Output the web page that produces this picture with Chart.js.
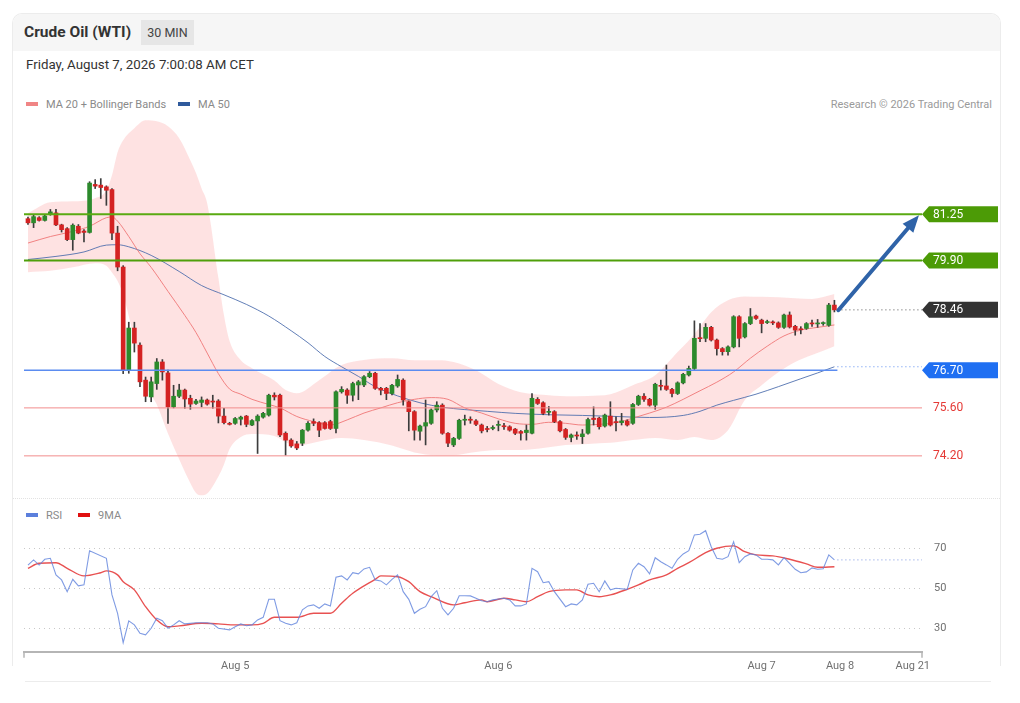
<!DOCTYPE html>
<html>
<head>
<meta charset="utf-8">
<script src="https://cdn.jsdelivr.net/npm/chart.js@4.4.1/dist/chart.umd.min.js"></script>
<style>
  body { margin: 0; width: 1020px; height: 703px; position: relative; overflow: hidden; background: #fff;
         font-family: Roboto, "Liberation Sans", Arial, sans-serif; }
  .card { position: absolute; left: 12px; top: 13px; width: 989px; height: 653px; box-sizing: border-box;
          border: 1px solid #ececec; border-bottom: none; border-radius: 10px 10px 0 0; }
  .head { position: absolute; left: 13px; top: 14px; width: 987px; height: 37px; background: #f6f6f6;
          border-radius: 9px 9px 0 0; }
  .title { position: absolute; left: 24px; top: 23px; font-size: 15.5px; font-weight: bold; color: #333; }
  .tf { position: absolute; left: 141px; top: 20px; width: 53px; height: 25px; line-height: 25px; text-align: center;
        background: #e6e6e6; color: #444; font-size: 12.5px; }
  .date { position: absolute; left: 26px; top: 57px; font-size: 13.3px; color: #333; }
  .leg { position: absolute; font-size: 11px; color: #8a8a8a; white-space: nowrap; }
  .sw { display: inline-block; width: 12px; height: 4px; vertical-align: middle; margin-right: 8px; position: relative; top: -1px; }
  .copy { position: absolute; right: 28px; top: 98px; font-size: 11px; color: #9a9a9a; }
  .sep { position: absolute; left: 13px; top: 498px; width: 987px; border-top: 1px dotted #e2e2e2; }
  .foot { position: absolute; left: 25px; top: 681px; width: 966px; border-top: 1px solid #ececec; }
  canvas { position: absolute; }
</style>
</head>
<body>
<div class="card"></div>
<div class="head"></div>
<div class="title">Crude Oil (WTI)</div>
<div class="tf">30 MIN</div>
<div class="date">Friday, August 7, 2026 7:00:08 AM CET</div>
<div class="leg" style="left:26px;top:98px"><span class="sw" style="background:#f08585"></span>MA 20 + Bollinger Bands</div>
<div class="leg" style="left:178px;top:98px"><span class="sw" style="background:#2f5a9c"></span>MA 50</div>
<div class="copy">Research © 2026 Trading Central</div>
<div class="sep"></div>
<div class="leg" style="left:26px;top:509px"><span class="sw" style="background:#5b7fdc"></span>RSI</div>
<div class="leg" style="left:78px;top:509px"><span class="sw" style="background:#e01010"></span>9MA</div>
<div class="foot"></div>

<canvas id="priceChart" width="988" height="392" style="left:12px;top:110px"></canvas>
<canvas id="rsiChart" width="988" height="180" style="left:12px;top:500px"></canvas>

<script>
// 30 min candles, index 0 = first bar on the left
var candleOpen = [
  81.12, 81.00, 81.15, 81.07, 81.24, 81.29, 80.94, 80.83, 80.51, 80.90,
  80.76, 80.72, 82.12, 82.10, 82.05, 81.97, 80.70, 79.71, 76.70, 77.93,
  77.43, 76.41, 75.92, 76.31, 76.94, 76.62, 75.63, 75.94, 76.12, 75.88,
  75.73, 75.76, 75.83, 75.78, 75.80, 75.36, 75.15, 75.15, 75.27, 75.36,
  75.10, 75.22, 75.33, 75.39, 75.97, 75.97, 74.86, 74.66, 74.55, 74.57,
  74.95, 75.20, 75.17, 75.17, 75.20, 75.00, 76.07, 76.12, 75.97, 76.27,
  76.27, 76.51, 76.61, 76.17, 76.17, 76.02, 76.24, 76.41, 75.78, 75.49,
  74.92, 75.07, 75.15, 75.54, 75.68, 74.86, 74.52, 74.71, 75.24, 75.25,
  75.22, 75.10, 74.99, 75.00, 75.09, 75.07, 75.05, 74.98, 74.91, 74.88,
  74.86, 75.85, 75.75, 75.47, 75.49, 75.20, 74.97, 74.74, 74.79, 74.76,
  74.86, 75.30, 75.30, 75.07, 75.36, 75.18, 75.17, 75.22, 75.15, 75.70,
  75.94, 75.85, 75.68, 76.24, 76.24, 76.14, 76.02, 76.33, 76.56, 76.75,
  77.63, 77.63, 77.95, 77.58, 77.33, 77.24, 77.38, 78.26, 77.67, 78.06,
  78.28, 78.16, 78.09, 78.09, 78.08, 77.95, 78.31, 77.98, 77.89, 77.92,
  78.06, 78.05, 78.06, 78.01, 78.60
];
var candleHigh = [
  81.17, 81.22, 81.18, 81.23, 81.39, 81.39, 80.96, 80.86, 80.97, 80.95,
  80.80, 82.20, 82.26, 82.29, 82.08, 82.00, 80.90, 79.75, 78.10, 78.10,
  77.50, 76.50, 76.50, 77.04, 77.01, 76.70, 76.26, 76.29, 76.15, 75.97,
  75.85, 75.92, 75.86, 75.97, 75.84, 75.59, 75.18, 75.32, 75.36, 75.38,
  75.26, 75.40, 75.47, 76.00, 76.04, 76.00, 74.90, 74.70, 74.62, 74.97,
  75.20, 75.28, 75.20, 75.20, 75.24, 76.10, 76.22, 76.16, 76.35, 76.40,
  76.54, 76.66, 76.64, 76.20, 76.20, 76.29, 76.56, 76.45, 75.80, 75.52,
  75.10, 75.83, 75.57, 75.78, 75.72, 74.88, 74.74, 75.27, 75.39, 75.34,
  75.26, 75.13, 75.06, 75.08, 75.22, 75.15, 75.08, 75.00, 74.94, 75.10,
  76.02, 75.90, 75.78, 75.64, 75.52, 75.23, 75.00, 74.84, 74.90, 74.97,
  75.30, 75.63, 75.33, 75.42, 75.78, 75.34, 75.44, 75.25, 75.73, 75.97,
  76.02, 75.88, 76.32, 76.41, 76.85, 76.17, 76.36, 76.61, 76.82, 78.14,
  78.06, 78.06, 77.98, 77.61, 77.36, 77.41, 78.29, 78.29, 78.09, 78.50,
  78.31, 78.19, 78.16, 78.14, 78.11, 78.34, 78.40, 78.01, 77.97, 78.09,
  78.16, 78.18, 78.11, 78.65, 78.74
];
var candleLow = [
  80.95, 80.86, 81.05, 81.05, 81.22, 80.92, 80.73, 80.48, 80.20, 80.68,
  80.44, 80.70, 82.00, 81.71, 81.51, 80.51, 79.60, 76.60, 76.61, 77.23,
  76.22, 75.78, 75.78, 76.14, 76.41, 75.15, 75.60, 75.90, 75.59, 75.56,
  75.70, 75.63, 75.68, 75.59, 75.16, 75.13, 75.10, 75.12, 75.10, 75.05,
  75.08, 74.27, 75.30, 75.36, 75.83, 74.76, 74.22, 74.45, 74.38, 74.50,
  74.92, 75.08, 74.76, 74.98, 74.97, 74.87, 76.03, 75.73, 75.80, 75.84,
  76.22, 76.48, 76.14, 75.98, 75.84, 75.98, 76.20, 75.68, 74.93, 74.66,
  74.66, 74.52, 75.12, 75.48, 74.83, 74.47, 74.47, 74.68, 75.10, 75.15,
  75.08, 74.87, 74.90, 74.96, 74.93, 74.97, 74.92, 74.82, 74.66, 74.66,
  74.84, 75.70, 75.40, 75.39, 75.17, 74.90, 74.68, 74.61, 74.68, 74.56,
  74.83, 75.10, 74.98, 75.04, 75.07, 74.93, 75.10, 75.07, 75.12, 75.67,
  75.79, 75.65, 75.56, 76.12, 76.11, 75.92, 75.99, 76.30, 76.53, 76.72,
  77.53, 77.53, 77.55, 77.14, 77.14, 77.14, 77.35, 77.38, 77.64, 78.03,
  78.18, 77.79, 78.06, 78.03, 77.92, 77.92, 77.93, 77.72, 77.76, 77.89,
  77.98, 77.95, 78.01, 77.98, 78.40
];
var candleClose = [
  81.00, 81.18, 81.07, 81.20, 81.32, 80.94, 80.80, 80.51, 80.93, 80.70,
  80.72, 82.16, 82.07, 82.03, 81.95, 80.70, 79.71, 76.70, 77.93, 77.49,
  76.36, 75.94, 76.36, 76.94, 76.65, 75.63, 75.94, 76.12, 75.86, 75.71,
  75.80, 75.83, 75.71, 75.77, 75.36, 75.17, 75.12, 75.29, 75.33, 75.12,
  75.23, 75.36, 75.44, 75.97, 75.92, 74.81, 74.66, 74.49, 74.43, 74.95,
  75.15, 75.15, 74.95, 75.00, 75.00, 76.07, 76.14, 75.97, 76.31, 76.36,
  76.51, 76.61, 76.17, 76.12, 76.02, 76.26, 76.43, 75.83, 75.49, 74.95,
  75.07, 75.17, 75.54, 75.68, 74.86, 74.57, 74.71, 75.24, 75.25, 75.24,
  75.12, 74.93, 74.97, 75.03, 75.10, 75.05, 74.95, 74.86, 74.86, 74.95,
  75.88, 75.73, 75.44, 75.49, 75.20, 74.93, 74.74, 74.81, 74.78, 74.84,
  75.26, 75.26, 75.05, 75.39, 75.10, 75.17, 75.22, 75.10, 75.70, 75.94,
  75.85, 75.68, 76.29, 76.23, 76.14, 76.02, 76.33, 76.58, 76.75, 77.63,
  77.62, 77.95, 77.58, 77.33, 77.24, 77.38, 78.26, 77.63, 78.06, 78.26,
  78.21, 78.06, 78.09, 78.08, 77.95, 78.31, 77.96, 77.87, 77.88, 78.06,
  78.05, 78.06, 78.06, 78.60, 78.46
];

// Bollinger bands (read at these bar indexes)
var bandIdx   = [0, 4, 8, 12, 14, 15, 16, 17, 19, 21, 23, 25, 27, 29, 30, 31, 32, 34, 35, 36, 38, 40, 44, 46, 48,
                 52, 56, 60, 65, 69, 73, 76, 80, 84, 88, 92, 96, 100, 104, 108, 112, 116, 119, 122, 125, 128,
                 131, 134, 137, 140, 144];
var bandUpper = [81.28, 81.60, 81.63, 81.72, 81.95, 82.39, 83.06, 83.41, 83.76, 83.99, 83.96, 83.82, 83.47, 82.82,
                 82.45, 82.00, 81.57, 79.40, 78.30, 77.55, 76.99, 76.76, 76.40, 76.12, 76.03, 76.41, 76.85, 77.00,
                 77.05, 76.99, 76.99, 76.94, 76.70, 76.30, 76.06, 75.98, 75.94, 75.95, 76.00, 76.26, 76.55, 77.23,
                 77.75, 78.39, 78.74, 78.85, 78.84, 78.83, 78.80, 78.78, 78.92];
var bandLower = [79.56, 79.60, 79.70, 79.82, 79.75, 79.55, 79.30, 78.90, 77.60, 76.30, 75.70, 74.85, 74.10, 73.40,
                 73.12, 73.05, 73.10, 73.60, 73.95, 74.40, 74.75, 74.84, 74.78, 74.60, 74.50, 74.62, 74.72, 74.66,
                 74.50, 74.30, 74.22, 74.22, 74.31, 74.37, 74.37, 74.43, 74.52, 74.55, 74.58, 74.66, 74.72, 74.66,
                 74.75, 74.66, 74.95, 75.83, 76.26, 76.64, 76.94, 77.14, 77.40];

var ma20Idx = [0, 4, 8, 11, 14, 15, 16, 18, 20, 22, 25, 28, 30, 32, 34, 36, 38, 40, 43, 45, 48, 51, 54, 57, 60, 63,
               66, 69, 72, 75, 78, 81, 84, 87, 90, 93, 96, 99, 102, 105, 108, 111, 114, 117, 120, 123, 126, 129,
               132, 135, 138, 141, 144];
var ma20Val = [80.41, 80.60, 80.75, 80.90, 81.15, 81.17, 81.05, 80.60, 80.10, 79.70, 79.00, 78.30, 77.80, 77.20,
               76.60, 76.15, 76.00, 75.85, 75.70, 75.60, 75.35, 75.20, 75.10, 75.25, 75.45, 75.60, 75.75, 75.85,
               75.90, 75.85, 75.60, 75.45, 75.28, 75.15, 75.12, 75.18, 75.15, 75.10, 75.12, 75.17, 75.30, 75.45,
               75.62, 75.85, 76.10, 76.35, 76.65, 77.05, 77.40, 77.70, 77.87, 77.95, 78.02];

var ma50Idx = [0, 5, 10, 14, 16, 18, 22, 27, 31, 35, 39, 43, 47, 50, 53, 56, 59, 62, 66, 70, 74, 78, 82, 87, 93,
               99, 105, 111, 117, 120, 123, 126, 130, 134, 138, 141, 144];
var ma50Val = [79.93, 80.02, 80.15, 80.35, 80.36, 80.30, 80.05, 79.58, 79.17, 78.90, 78.62, 78.28, 77.85, 77.50,
               77.10, 76.80, 76.52, 76.22, 75.95, 75.75, 75.62, 75.55, 75.50, 75.44, 75.40, 75.38, 75.35, 75.32,
               75.38, 75.50, 75.68, 75.82, 76.00, 76.22, 76.45, 76.62, 76.80];

var rsiIdx = [0, 1, 2, 3, 4, 5, 6, 7, 8, 9, 10, 11, 14, 15, 16, 17, 18, 19, 20, 21, 22, 23, 24, 25, 26, 27, 28,
              30, 31, 32, 33, 34, 36, 37, 38, 39, 40, 41, 42, 43, 44, 45, 46, 47, 48, 49, 50, 51, 52, 53, 54, 55,
              56, 57, 58, 59, 60, 61, 62, 63, 64, 65, 66, 67, 68, 69, 70, 71, 72, 73, 74, 75, 76, 77, 78, 79, 80,
              81, 82, 83, 85, 86, 87, 88, 89, 90, 91, 92, 93, 94, 96, 97, 98, 99, 100, 101, 102, 103, 104, 105,
              107, 108, 109, 110, 111, 112, 113, 114, 115, 116, 117, 118, 119, 120, 121, 122, 123, 124, 125, 126,
              127, 128, 129, 130, 131, 132, 133, 134, 135, 136, 137, 138, 139, 140, 141, 142, 143, 144];
var rsiVal = [61.6, 64.2, 61.6, 64.5, 65.0, 56.7, 54.2, 48.3, 54.5, 51.2, 51.7, 68.8, 65.0, 46.7, 37.5, 22.8, 33.7,
              31.7, 27.5, 26.7, 30.0, 35.0, 33.8, 30.0, 31.7, 33.8, 32.2, 32.8, 32.8, 32.8, 32.2, 30.0, 29.2, 30.8,
              32.2, 31.3, 31.7, 34.2, 35.5, 44.5, 44.5, 33.8, 32.5, 31.7, 32.8, 39.2, 41.2, 41.7, 40.0, 42.2, 41.2,
              55.5, 56.2, 54.2, 57.8, 57.2, 59.7, 60.5, 54.2, 53.7, 51.7, 54.5, 56.7, 48.3, 44.5, 37.5, 39.5, 40.8,
              45.8, 48.8, 40.0, 36.7, 40.0, 46.3, 46.3, 46.2, 45.0, 43.8, 43.3, 44.2, 45.0, 44.2, 41.2, 41.2, 42.2,
              60.0, 58.3, 52.8, 53.3, 48.3, 40.8, 42.2, 41.7, 44.2, 52.0, 52.5, 48.3, 53.7, 49.2, 50.0, 49.5, 59.2,
              62.5, 60.8, 57.2, 65.3, 63.3, 61.7, 60.0, 64.5, 67.2, 68.8, 76.7, 77.0, 78.8, 70.8, 65.0, 64.5, 65.8,
              73.3, 62.8, 65.8, 67.2, 66.7, 64.5, 64.5, 64.2, 61.7, 65.3, 62.5, 59.5, 57.8, 58.2, 60.2, 59.5, 59.8,
              66.7, 64.2];

var rsiMaIdx = [0, 2, 5, 7, 10, 13, 14, 16, 17, 19, 21, 23, 25, 27, 31, 34, 37, 40, 42, 44, 48, 51, 54, 56, 58,
                62, 63, 66, 68, 70, 72, 76, 78, 81, 82, 85, 87, 89, 91, 93, 96, 98, 100, 102, 104, 107, 109, 111,
                114, 116, 118, 121, 123, 126, 128, 130, 133, 136, 139, 141, 144];
var rsiMaVal = [60.0, 62.5, 62.8, 60.0, 56.2, 57.8, 58.7, 56.7, 53.3, 49.2, 40.8, 34.2, 30.8, 31.2, 32.5, 32.2,
                31.7, 31.7, 32.5, 35.5, 35.5, 37.5, 37.5, 42.5, 47.5, 54.5, 56.2, 55.8, 53.3, 48.3, 45.8, 41.7,
                42.8, 44.2, 43.3, 45.0, 44.2, 43.3, 45.8, 48.3, 49.2, 49.2, 46.7, 45.8, 46.7, 49.5, 51.7, 54.2,
                56.7, 60.0, 62.8, 67.8, 70.0, 71.2, 68.3, 66.7, 66.2, 64.5, 62.2, 60.5, 60.8];

var xTickPos = [37, 84, 131, 145, 158];
var xTickLabels = ['Aug 5', 'Aug 6', 'Aug 7', 'Aug 8', 'Aug 21'];
var rsiTicks = [30, 50, 70];

// price levels shown on the right edge
var levels = [81.25, 79.90, 78.46, 76.70, 75.60, 74.20];
var arrowFrom = [144.7, 78.45];
var arrowTo = [159.1, 81.22];

var X_MIN = -0.71, X_MAX = 159.64;
var FONT = 'Roboto, "Liberation Sans", Arial, sans-serif';

function pts(xs, ys) {
  return xs.map(function (v, k) { return { x: v, y: ys[k] }; });
}

var bodies = candleOpen.map(function (o, i) { return { x: i, y: [o, candleClose[i]] }; });
var wicks = candleLow.map(function (l, i) { return { x: i, y: [l, candleHigh[i]] }; });
function bodyColor(ctx) {
  var i = ctx.dataIndex;
  return candleClose[i] >= candleOpen[i] ? '#2c8a2c' : '#d42222';
}

// look of each level: line colour/width, how far it runs, tag colour
var levelLook = [
  { line: '#5aaa12', w: 2, tag: '#4c9b06' },
  { line: '#4f9f0a', w: 2, tag: '#4c9b06' },
  { dots: '#555', tag: '#333333' },
  { line: '#5b8cf0', w: 1.5, toLast: true, tag: '#1f6ff2' },
  { line: '#f28c8c', w: 1, text: '#e53935' },
  { line: '#f28c8c', w: 1, text: '#e53935' }
];

var priceOverlay = {
  id: 'priceOverlay',
  afterDatasetsDraw: function (chart) {
    var ctx = chart.ctx, a = chart.chartArea, xs = chart.scales.x, ys = chart.scales.y;
    var lastX = xs.getPixelForValue(candleClose.length - 1) + 3;
    ctx.save();
    levelLook.forEach(function (s, k) {
      var py = ys.getPixelForValue(levels[k]);
      if (s.line) {
        ctx.strokeStyle = s.line;
        ctx.lineWidth = s.w;
        ctx.setLineDash([]);
        ctx.beginPath();
        ctx.moveTo(a.left, py);
        ctx.lineTo(s.toLast ? lastX : a.right, py);
        ctx.stroke();
      }
      if (s.dots || s.toLast) {
        var dy = s.toLast ? ys.getPixelForValue(ma50Val[ma50Val.length - 1]) : py;
        ctx.strokeStyle = s.dots || s.line;
        ctx.lineWidth = 1;
        ctx.setLineDash([1, 3]);
        ctx.beginPath();
        ctx.moveTo(lastX, dy);
        ctx.lineTo(a.right, dy);
        ctx.stroke();
        ctx.setLineDash([]);
      }
      ctx.font = '12px ' + FONT;
      ctx.textBaseline = 'middle';
      if (s.tag) {
        var x0 = a.right, h = 16, w = 76;
        ctx.fillStyle = s.tag;
        ctx.beginPath();
        ctx.moveTo(x0, py);
        ctx.lineTo(x0 + 7, py - h / 2);
        ctx.lineTo(x0 + w, py - h / 2);
        ctx.lineTo(x0 + w, py + h / 2);
        ctx.lineTo(x0 + 7, py + h / 2);
        ctx.closePath();
        ctx.fill();
        ctx.fillStyle = '#fff';
        ctx.fillText(levels[k].toFixed(2), x0 + 11, py + 0.5);
      } else {
        ctx.fillStyle = s.text;
        ctx.fillText(levels[k].toFixed(2), a.right + 11, py + 0.5);
      }
    });

    // target arrow
    var x1 = xs.getPixelForValue(arrowFrom[0]), y1 = ys.getPixelForValue(arrowFrom[1]);
    var x2 = xs.getPixelForValue(arrowTo[0]), y2 = ys.getPixelForValue(arrowTo[1]);
    var ang = Math.atan2(y2 - y1, x2 - x1), head = 17, half = 7;
    var bx = x2 - head * Math.cos(ang), by = y2 - head * Math.sin(ang);
    ctx.strokeStyle = '#2f63a8';
    ctx.fillStyle = '#2f63a8';
    ctx.lineWidth = 4;
    ctx.lineCap = 'round';
    ctx.beginPath();
    ctx.moveTo(x1, y1);
    ctx.lineTo(bx, by);
    ctx.stroke();
    ctx.beginPath();
    ctx.moveTo(x2, y2);
    ctx.lineTo(bx + half * Math.sin(ang), by - half * Math.cos(ang));
    ctx.lineTo(bx - half * Math.sin(ang), by + half * Math.cos(ang));
    ctx.closePath();
    ctx.fill();
    ctx.restore();
  }
};

new Chart(document.getElementById('priceChart'), {
  type: 'bar',
  data: {
    datasets: [
      { label: 'body', data: bodies, backgroundColor: bodyColor, barThickness: 4, minBarLength: 1,
        grouped: false, order: 0 },
      { label: 'wick', data: wicks, backgroundColor: '#3c3c3c', barThickness: 1, grouped: false, order: 1 },
      { type: 'line', label: 'MA 20', data: pts(ma20Idx, ma20Val), borderColor: 'rgba(240,120,120,0.9)',
        borderWidth: 1, pointRadius: 0, cubicInterpolationMode: 'monotone', order: 2 },
      { type: 'line', label: 'MA 50', data: pts(ma50Idx, ma50Val), borderColor: 'rgba(70,105,170,0.85)',
        borderWidth: 1, pointRadius: 0, cubicInterpolationMode: 'monotone', order: 2 },
      { type: 'line', label: 'BB up', data: pts(bandIdx, bandUpper), borderWidth: 0, borderColor: 'transparent',
        backgroundColor: 'rgba(252,195,195,0.48)', fill: '+1', pointRadius: 0,
        cubicInterpolationMode: 'monotone', order: 3 },
      { type: 'line', label: 'BB low', data: pts(bandIdx, bandLower), borderWidth: 0, borderColor: 'transparent',
        pointRadius: 0, cubicInterpolationMode: 'monotone', fill: false, order: 3 }
    ]
  },
  options: {
    responsive: false,
    animation: false,
    layout: { padding: { left: 12, right: 78, top: 10, bottom: 5 } },
    plugins: { legend: { display: false }, tooltip: { enabled: false } },
    scales: {
      x: { type: 'linear', min: X_MIN, max: X_MAX, offset: false, display: false },
      y: { min: 73, max: 84, display: false }
    }
  },
  plugins: [priceOverlay]
});

var rsiOverlay = {
  id: 'rsiOverlay',
  afterDraw: function (chart) {
    var ctx = chart.ctx, a = chart.chartArea, xs = chart.scales.x, ys = chart.scales.y;
    ctx.save();
    var lx = xs.getPixelForValue(rsiIdx[rsiIdx.length - 1]);
    var ly = ys.getPixelForValue(rsiVal[rsiVal.length - 1]);
    ctx.strokeStyle = '#7b95e0';
    ctx.lineWidth = 1;
    ctx.setLineDash([1, 3]);
    ctx.beginPath();
    ctx.moveTo(lx + 3, ly);
    ctx.lineTo(a.right, ly);
    ctx.stroke();
    ctx.setLineDash([]);
    ctx.strokeStyle = '#b5b5b5';
    ctx.lineWidth = 1.5;
    [a.left, a.right].forEach(function (px) {
      ctx.beginPath();
      ctx.moveTo(px, a.bottom);
      ctx.lineTo(px, a.bottom + 6);
      ctx.stroke();
    });
    ctx.restore();
  }
};

new Chart(document.getElementById('rsiChart'), {
  type: 'line',
  data: {
    datasets: [
      { label: 'RSI', data: pts(rsiIdx, rsiVal), borderColor: 'rgba(95,130,220,0.8)', borderWidth: 1.1,
        pointRadius: 0, tension: 0 },
      { label: '9MA', data: pts(rsiMaIdx, rsiMaVal), borderColor: 'rgba(228,50,50,0.85)', borderWidth: 1.4,
        pointRadius: 0, cubicInterpolationMode: 'monotone' }
    ]
  },
  options: {
    responsive: false,
    animation: false,
    layout: { padding: { left: 12, right: 0, top: 20, bottom: 0 } },
    plugins: { legend: { display: false }, tooltip: { enabled: false } },
    scales: {
      x: {
        type: 'linear', min: X_MIN, max: X_MAX, position: 'bottom',
        grid: { display: false, drawTicks: false },
        border: { display: true, color: '#b5b5b5', width: 2 },
        afterBuildTicks: function (s) { s.ticks = xTickPos.map(function (v) { return { value: v }; }); },
        afterFit: function (s) { s.height = 28.3; },
        ticks: {
          autoSkip: false, maxRotation: 0, padding: 8, color: '#707070', font: { size: 11, family: FONT },
          callback: function (v) { var k = xTickPos.indexOf(v); return k < 0 ? '' : xTickLabels[k]; }
        }
      },
      y: {
        position: 'right', min: 18.3, max: 84.15,
        grid: { color: '#c8c8c8', lineWidth: 1, drawTicks: false },
        border: { display: false, dash: [1, 4] },
        afterBuildTicks: function (s) { s.ticks = rsiTicks.map(function (v) { return { value: v }; }); },
        afterFit: function (s) { s.width = 78; },
        ticks: { padding: 12, color: '#707070', font: { size: 11, family: FONT } }
      }
    }
  },
  plugins: [rsiOverlay]
});
</script>
</body>
</html>
